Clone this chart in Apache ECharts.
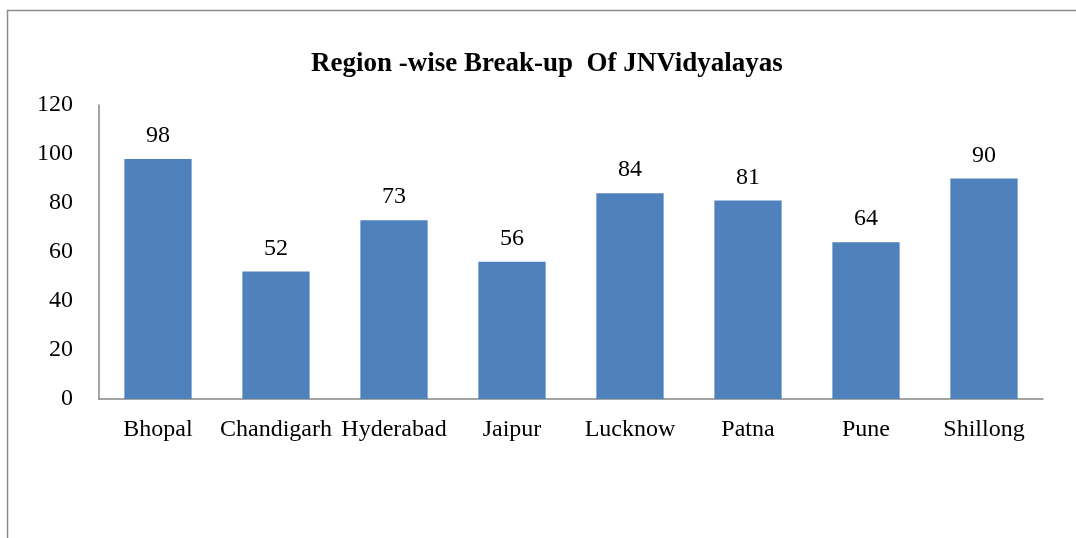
<!DOCTYPE html>
<html><head><meta charset="utf-8">
<script src="https://cdn.jsdelivr.net/npm/echarts@6/dist/echarts.min.js"></script>
<style>html,body{margin:0;padding:0;background:#fff}#c{width:1076px;height:538px}</style>
</head><body><div id="c"></div>
<script>
const categories = ["Bhopal","Chandigarh","Hyderabad","Jaipur","Lucknow","Patna","Pune","Shillong"];
const values = [98,52,73,56,84,81,64,90];
const yTicks = [0,20,40,60,80,100,120];
const titleText = "Region -wise Break-up  Of JNVidyalayas";

const chart = echarts.init(document.getElementById('c'), null, {renderer:'canvas'});
chart.setOption({
  animation:false,
  backgroundColor:'#fff',
  graphic:[{type:'rect',shape:{x:7.5,y:10.5,width:1200,height:700},style:{fill:'none',stroke:'#8c8c8c',lineWidth:1.5},silent:true}],
  title:{text:titleText,left:306,top:46,textStyle:{fontFamily:'Liberation Serif',fontWeight:'bold',fontSize:27,color:'#000'}},
  grid:{left:99,right:33,top:105,bottom:139,containLabel:false},
  xAxis:{type:'category',data:categories,
    axisLine:{lineStyle:{color:'#868686',width:1.5}},axisTick:{show:false},
    axisLabel:{fontFamily:'Liberation Serif',fontSize:24,color:'#000',margin:19,interval:0}},
  yAxis:{type:'value',min:yTicks[0],max:yTicks[yTicks.length-1],interval:20,
    axisLine:{show:true,lineStyle:{color:'#868686',width:1.5}},axisTick:{show:false},splitLine:{show:false},
    axisLabel:{fontFamily:'Liberation Serif',fontSize:24,color:'#000',margin:26}},
  series:[{type:'bar',data:values,barCategoryGap:'43%',
    itemStyle:{color:'#4F81BD'},
    label:{show:true,position:'top',distance:11,fontFamily:'Liberation Serif',fontSize:24,color:'#000'}}]
});
</script></body></html>
